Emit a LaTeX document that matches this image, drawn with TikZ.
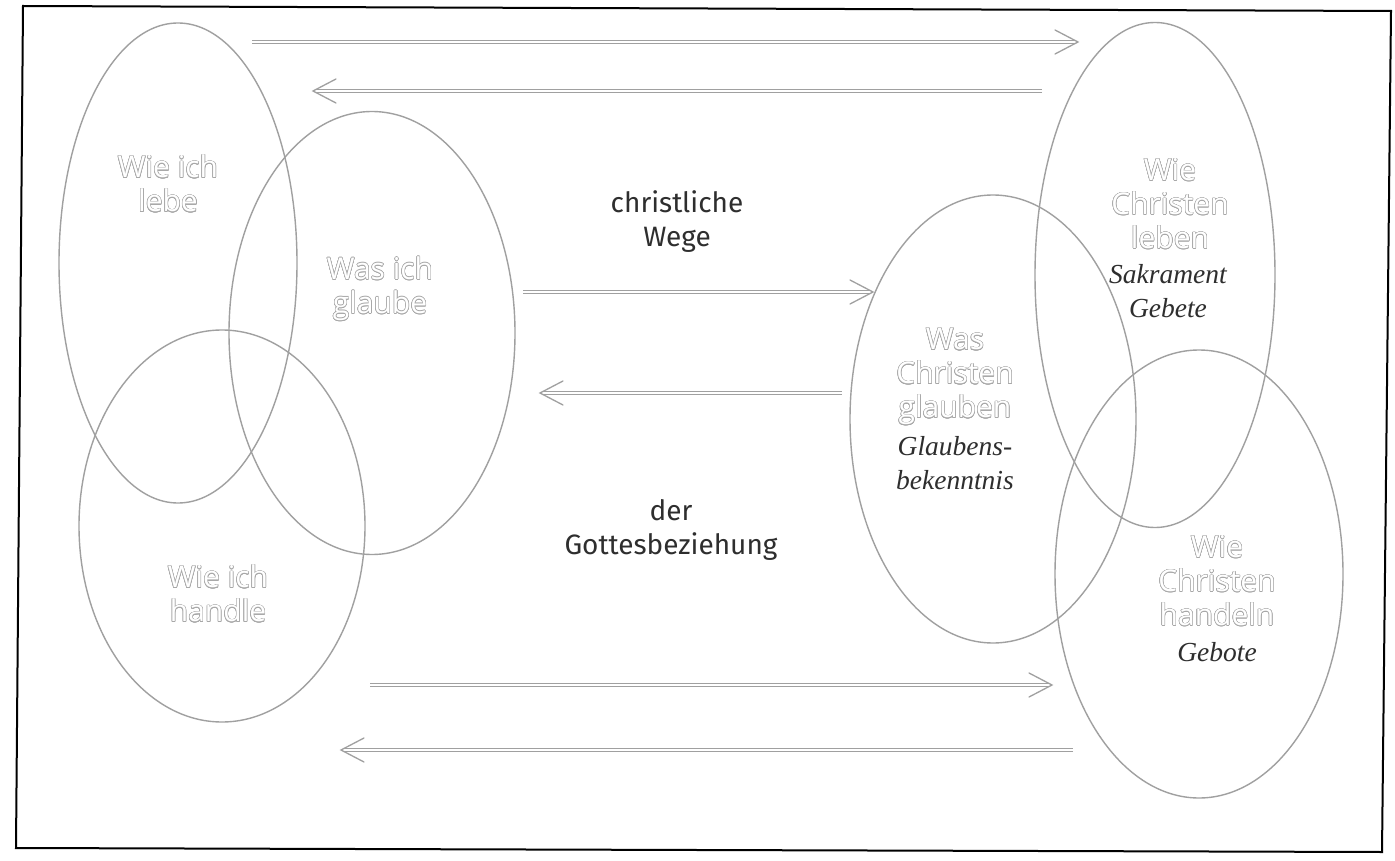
\documentclass[tikz,border=0pt]{standalone}
\usepackage{fontspec}
\setmainfont{Open Sans}
\newfontfamily\lblfont{Open Sans}
\newfontfamily\darkfont{Fira Sans}
\newfontfamily\itfont{Liberation Serif}
\usepackage[copies]{contour}
\contourlength{0.55pt}
\usetikzlibrary{calc,shapes.geometric}
\definecolor{ln}{HTML}{A0A0A0}
\definecolor{lbl}{HTML}{A8A8A8}
\definecolor{dk}{HTML}{2E2E2E}
\newcommand\gl[1]{\contour{lbl}{#1}}
\begin{document}
\begin{tikzpicture}[x=1pt,y=-1pt,
  ell/.style={draw=ln, line width=1.4pt, ellipse, inner sep=0pt},
  shaft/.style={draw=ln, line width=0.9pt, double=white, double distance=2.4pt},
  barb/.style={draw=ln, line width=1.3pt, line cap=round, line join=miter},
  glabel/.style={text=white, font=\lblfont\fontsize{30}{34}\selectfont, align=center, inner sep=0pt},
  itlabel/.style={text=dk, font=\itfont\itshape\fontsize{27.5}{34}\selectfont, align=center, inner sep=0pt},
  dlabel/.style={text=dk, font=\darkfont\fontsize{28}{34}\selectfont, align=center, inner sep=0pt}]
\useasboundingbox (0,0) rectangle (1395,861);
\fill[white] (0,0) rectangle (1395,861);
% frame
\draw[black, line width=2pt] (23,6) -- (1391,11) -- (1382,852) -- (16,848) -- cycle;
% ellipses
\node[ell, minimum width=238pt, minimum height=480pt] (e1) at (178,263) {};
\node[ell, minimum width=286pt, minimum height=443pt] (e2) at (372,333) {};
\node[ell, minimum width=286pt, minimum height=392pt] (e3) at (222,526) {};
\node[ell, minimum width=240pt, minimum height=505pt] (e4) at (1155,275) {};
\node[ell, minimum width=286pt, minimum height=448pt] (e5) at (993,419) {};
\node[ell, minimum width=288pt, minimum height=448pt] (e6) at (1199,574) {};
% labels
\node[glabel] (t1) at (168,184) {\gl{Wie ich}\\\gl{lebe}};
\node[glabel] (t2) at (380,289) {\gl{Was ich}\\\gl{glaube}};
\node[glabel] (t3) at (218,594) {\gl{Wie ich}\\\gl{handle}};
\node[glabel] (t4) at (1170,204) {\gl{Wie}\\\gl{Christen}\\\gl{leben}};
\node[itlabel] (i4) at (1168,291) {Sakrament\\Gebete};
\node[glabel] (t5) at (955,377) {\gl{Was}\\\gl{Christen}\\\gl{glauben}};
\node[itlabel] (i5) at (955,463) {Glaubens-\\bekenntnis};
\node[glabel] (t6) at (1217,581) {\gl{Wie}\\\gl{Christen}\\\gl{handeln}};
\node[itlabel] (i6) at (1217,652) {Gebote};
\node[dlabel] (w1) at (677,222) {christliche\\Wege};
\node[dlabel] (w2) at (671,530) {der\\Gottesbeziehung};
% arrow end points
\coordinate (a1s) at (252,42);  \coordinate (a1e) at (1078,42);
\coordinate (a2s) at (1042,91); \coordinate (a2e) at (313,91);
\coordinate (a3s) at (523,292); \coordinate (a3e) at (873,292);
\coordinate (a4s) at (842,393); \coordinate (a4e) at (540,393);
\coordinate (a5s) at (370,685); \coordinate (a5e) at (1052,685);
\coordinate (a6s) at (1073,750); \coordinate (a6e) at (341,750);
% right-pointing
\foreach \s/\e in {a1s/a1e, a3s/a3e, a5s/a5e}{
  \draw[shaft] (\s) -- ($(\e)+(-3,0)$);
  \draw[barb] ($(\e)+(-23,-12)$) -- (\e) -- ($(\e)+(-23,12)$);
}
% left-pointing
\foreach \s/\e in {a2s/a2e, a4s/a4e, a6s/a6e}{
  \draw[shaft] (\s) -- ($(\e)+(3,0)$);
  \draw[barb] ($(\e)+(23,-12)$) -- (\e) -- ($(\e)+(23,12)$);
}
\end{tikzpicture}
\end{document}
